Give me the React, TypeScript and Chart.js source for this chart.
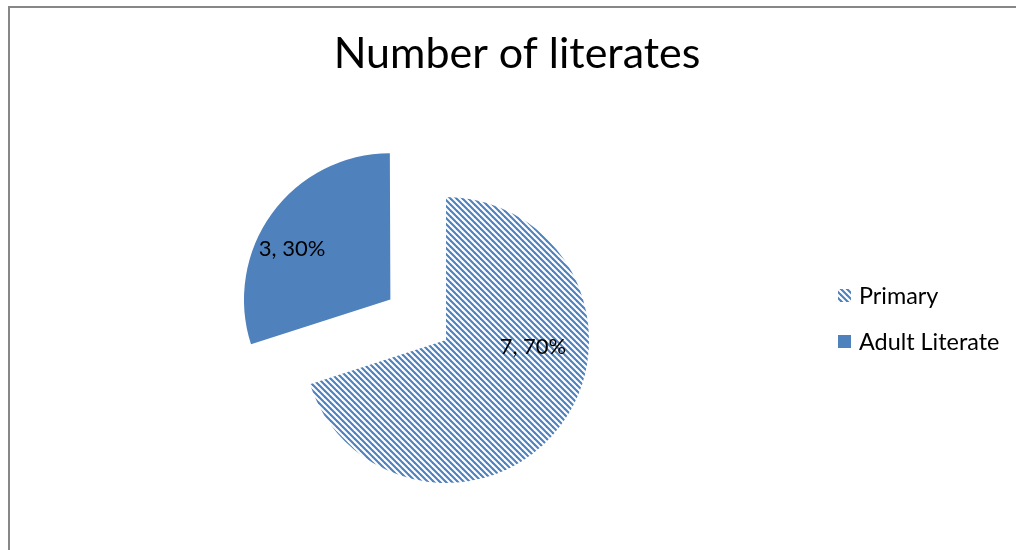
import React, { useEffect, useRef } from "react";
import { Chart, registerables } from "chart.js";

Chart.register(...registerables);

const categories = ["Primary", "Adult Literate"];
const values = [7, 3];
const chartTitle = "Number of literates";

const BLUE = "#4F81BD";
const FONT = "Lato, 'Open Sans', 'DejaVu Sans', sans-serif";

function makeStripePattern(): CanvasPattern | string {
  const s = 6;
  const c = document.createElement("canvas");
  c.width = s;
  c.height = s;
  const g = c.getContext("2d");
  if (!g) return BLUE;
  g.fillStyle = "#ffffff";
  g.fillRect(0, 0, s, s);
  g.strokeStyle = BLUE;
  g.lineWidth = 2.1;
  for (let k = -1; k <= 1; k++) {
    g.beginPath();
    g.moveTo(k * s - 1, -1);
    g.lineTo(k * s + s + 1, s + 1);
    g.stroke();
  }
  return g.createPattern(c, "repeat") || BLUE;
}

function explodeShift(arc: any) {
  const offset = (arc.options.offset || 0) / 4;
  const circ = arc.circumference || 0;
  const fix = 1 - Math.sin(Math.min(Math.PI, circ));
  const half = (arc.startAngle + arc.endAngle) / 2;
  const d = offset * (1 + fix);
  return { dx: Math.cos(half) * d, dy: Math.sin(half) * d };
}

export default function App() {
  const ref = useRef<HTMLCanvasElement | null>(null);

  useEffect(() => {
    if (!ref.current) return;
    const pattern = makeStripePattern();
    const fills = [pattern, BLUE];
    const total = values.reduce((a, b) => a + b, 0);
    const labelPlace = [
      { turn: -31.4, frac: 0.61 },
      { turn: -9, frac: 0.75 },
    ];

    const framePlugin = {
      id: "xlFrame",
      beforeDraw(chart: any) {
        const ctx = chart.ctx;
        ctx.save();
        ctx.fillStyle = "#ffffff";
        ctx.fillRect(0, 0, chart.width, chart.height);
        ctx.fillStyle = "#878787";
        ctx.fillRect(8, 6, chart.width - 8, 2);
        ctx.fillRect(8, 6, 2, chart.height - 6);
        ctx.restore();
      },
    };

    const titlePlugin = {
      id: "xlTitle",
      afterDraw(chart: any) {
        const ctx = chart.ctx;
        ctx.save();
        ctx.font = `43px ${FONT}`;
        ctx.fillStyle = "#000";
        ctx.textAlign = "center";
        ctx.textBaseline = "alphabetic";
        ctx.fillText(chartTitle, 517, 68);
        ctx.restore();
      },
    };

    const labelPlugin = {
      id: "xlLabels",
      afterDatasetsDraw(chart: any) {
        const ctx = chart.ctx;
        const meta = chart.getDatasetMeta(0);
        ctx.save();
        ctx.font = `22px ${FONT}`;
        ctx.fillStyle = "#000";
        ctx.textAlign = "center";
        ctx.textBaseline = "middle";
        meta.data.forEach((arc: any, i: number) => {
          const sh = explodeShift(arc);
          const p = labelPlace[i];
          const a = (arc.startAngle + arc.endAngle) / 2 + (p.turn * Math.PI) / 180;
          const px = arc.x + sh.dx + Math.cos(a) * p.frac * arc.outerRadius;
          const py = arc.y + sh.dy + Math.sin(a) * p.frac * arc.outerRadius;
          const pct = Math.round((values[i] / total) * 100);
          ctx.fillText(`${values[i]}, ${pct}%`, px, py);
        });
        ctx.restore();
      },
    };

    const legendPlugin = {
      id: "xlLegend",
      afterDraw(chart: any) {
        const ctx = chart.ctx;
        ctx.save();
        ctx.font = `23.4px ${FONT}`;
        ctx.textAlign = "left";
        ctx.textBaseline = "middle";
        const rows = [296, 342];
        categories.forEach((name, i) => {
          const y = rows[i];
          ctx.fillStyle = fills[i];
          ctx.fillRect(838, y - 7, 13, 13);
          ctx.fillStyle = "#000";
          ctx.fillText(name, 859, y);
        });
        ctx.restore();
      },
    };

    const chart = new Chart(ref.current, {
      type: "pie",
      data: {
        labels: categories,
        datasets: [
          {
            data: values,
            backgroundColor: fills as any,
            borderWidth: 0,
            offset: [0, 275],
            radius: 143,
          } as any,
        ],
      },
      options: {
        responsive: false,
        animation: false,
        radius: 143,
        layout: { padding: { left: 146, right: 270, top: 140, bottom: 10 } },
        plugins: {
          legend: { display: false },
          title: { display: false },
          tooltip: { enabled: false },
        },
      } as any,
      plugins: [framePlugin, titlePlugin, labelPlugin, legendPlugin],
    });
    return () => chart.destroy();
  }, []);

  return (
    <div
      style={{
        position: "fixed",
        left: 0,
        top: 0,
        width: 1016,
        height: 550,
        background: "#fff",
        overflow: "hidden",
      }}
    >
      <canvas ref={ref} width={1016} height={550} style={{ position: "absolute", left: 0, top: 0, display: "block" }} />
    </div>
  );
}
